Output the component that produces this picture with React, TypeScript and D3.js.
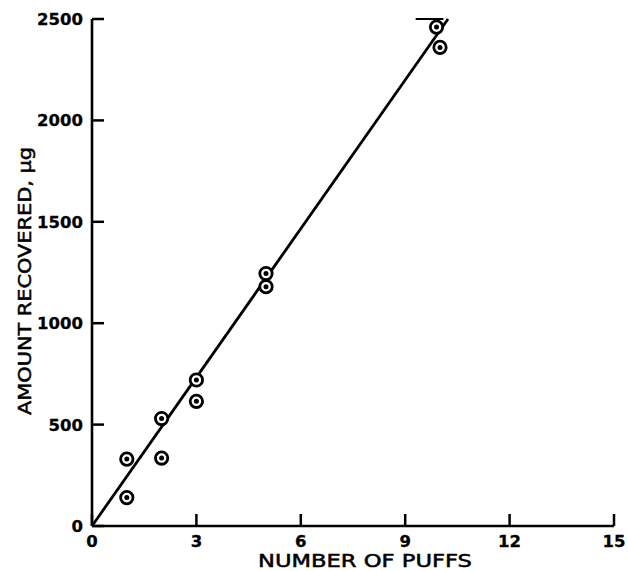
import React from "react";
import * as d3 from "d3";

const puffs = [1, 1, 2, 2, 3, 3, 5, 5, 9.9, 10];
const recovered = [330, 140, 530, 335, 720, 615, 1245, 1180, 2460, 2360];
const xTicks = [0, 3, 6, 9, 12, 15];
const yTicks = [0, 500, 1000, 1500, 2000, 2500];
const fitLine = [
  [0, 0],
  [10.23, 2500],
];
const topBar = [9.3, 10.1];

const W = 628;
const H = 571;

export default function App() {
  const x = d3.scaleLinear().domain([0, 15]).range([92, 614]);
  const y = d3.scaleLinear().domain([0, 2500]).range([526, 19]);
  const line = d3
    .line<number[]>()
    .x((d) => x(d[0]))
    .y((d) => y(d[1]));
  const tickFont = "'DejaVu Sans', Arial, sans-serif";
  const titleFont = "'DejaVu Sans', Arial, sans-serif";
  return (
    <svg
      width={W}
      height={H}
      style={{ position: "absolute", left: 0, top: 0, background: "#fff" }}
    >
      {/* axes */}
      <line x1={x(0)} x2={x(0)} y1={y(0)} y2={y(2500)} stroke="#000" strokeWidth={2.6} />
      <line x1={x(0)} x2={x(15)} y1={y(0)} y2={y(0)} stroke="#000" strokeWidth={2.6} />
      {yTicks.map((t) => (
        <g key={"y" + t}>
          <line x1={x(0)} x2={x(0) + 12} y1={y(t)} y2={y(t)} stroke="#000" strokeWidth={2.5} />
          <text
            x={x(0) - 9}
            y={y(t)}
            dy="0.36em"
            textAnchor="end"
            fontSize={16.5}
            fontWeight="bold"
            fontFamily={tickFont}
            stroke="#000"
            strokeWidth={0.3}
          >
            {t}
          </text>
        </g>
      ))}
      {xTicks.map((t) => (
        <g key={"x" + t}>
          <line x1={x(t)} x2={x(t)} y1={y(0)} y2={y(0) - 12} stroke="#000" strokeWidth={2.5} />
          <text
            x={x(t)}
            y={y(0) + 21}
            textAnchor="middle"
            fontSize={16.5}
            fontWeight="bold"
            fontFamily={tickFont}
            stroke="#000"
            strokeWidth={0.3}
          >
            {t}
          </text>
        </g>
      ))}
      <text
        x={258}
        y={567}
        fontSize={17}
        fontFamily={titleFont}
        textLength={214}
        lengthAdjust="spacingAndGlyphs"
        stroke="#000"
        strokeWidth={0.5}
      >
        NUMBER OF PUFFS
      </text>
      <text
        transform={`translate(31,415) rotate(-90)`}
        fontSize={17}
        fontFamily={titleFont}
        textLength={268}
        lengthAdjust="spacingAndGlyphs"
        stroke="#000"
        strokeWidth={0.5}
      >
        AMOUNT RECOVERED, μg
      </text>
      {/* fit line */}
      <path d={line(fitLine as number[][]) || ""} stroke="#000" strokeWidth={2.8} fill="none" />
      <line
        x1={x(topBar[0])}
        x2={x(topBar[1])}
        y1={y(2500)}
        y2={y(2500)}
        stroke="#000"
        strokeWidth={2}
      />
      {/* points */}
      {puffs.map((p, i) => (
        <g key={"p" + i}>
          <circle cx={x(p)} cy={y(recovered[i])} r={6.2} fill="#fff" stroke="#000" strokeWidth={2.8} />
          <circle cx={x(p)} cy={y(recovered[i])} r={2.5} fill="#000" />
        </g>
      ))}
    </svg>
  );
}
